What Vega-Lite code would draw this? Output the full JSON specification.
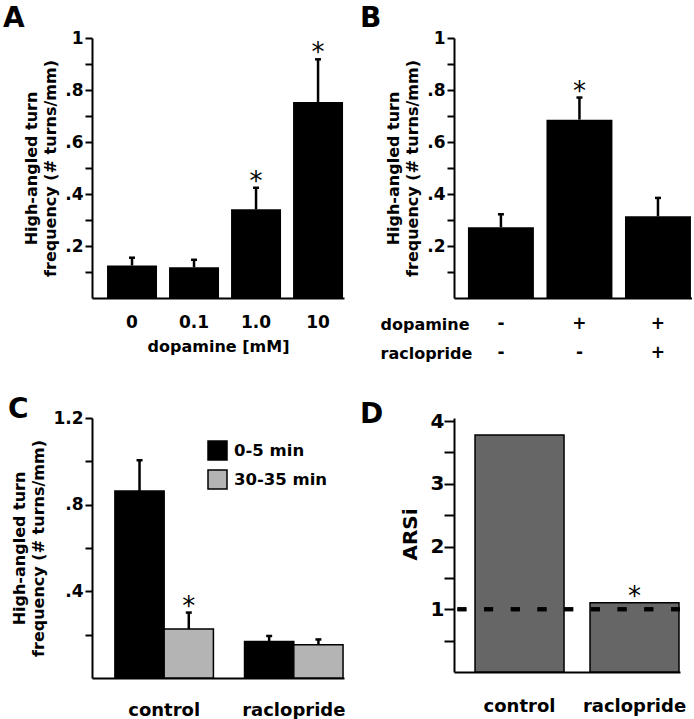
{
  "$schema": "https://vega.github.io/schema/vega-lite/v6.json",
  "padding": {"left": 3, "top": 5, "right": 0, "bottom": 0},
  "background": "white",
  "bounds": "flush",
  "align": "all",
  "columns": 2,
  "spacing": {"row": 120, "column": 110},
  "datasets": {
    "A": [
      {"dose": "0", "mean": 0.125, "upper": 0.155, "sig": ""},
      {"dose": "0.1", "mean": 0.118, "upper": 0.147, "sig": ""},
      {"dose": "1.0", "mean": 0.341, "upper": 0.424, "sig": "*"},
      {"dose": "10", "mean": 0.754, "upper": 0.918, "sig": "*"}
    ],
    "B": [
      {"cond": "- -", "dopamine": "-", "raclopride": "-", "mean": 0.272, "upper": 0.322, "sig": ""},
      {"cond": "+ -", "dopamine": "+", "raclopride": "-", "mean": 0.686, "upper": 0.771, "sig": "*"},
      {"cond": "+ +", "dopamine": "+", "raclopride": "+", "mean": 0.314, "upper": 0.385, "sig": ""}
    ],
    "C": [
      {"treatment": "control", "period": "0-5 min", "mean": 0.863, "upper": 1.005, "sig": ""},
      {"treatment": "control", "period": "30-35 min", "mean": 0.226, "upper": 0.302, "sig": "*"},
      {"treatment": "raclopride", "period": "0-5 min", "mean": 0.169, "upper": 0.194, "sig": ""},
      {"treatment": "raclopride", "period": "30-35 min", "mean": 0.154, "upper": 0.178, "sig": ""}
    ],
    "D": [
      {"treatment": "control", "arsi": 3.78, "sig": ""},
      {"treatment": "raclopride", "arsi": 1.105, "sig": "*"}
    ]
  },
  "concat": [
    {
      "width": 252,
      "height": 260,
      "title": {"text": "A", "dx": -89, "offset": -4},
      "data": {"name": "A"},
      "encoding": {
        "x": {
          "field": "dose", "type": "nominal", "sort": null,
          "scale": {"paddingInner": 0.194, "paddingOuter": 0.129, "align": 0.94},
          "axis": {"title": "dopamine [mM]", "labelPadding": 16, "titlePadding": 8, "labelBaseline": "top"}
        }
      },
      "layer": [
        {
          "mark": {"type": "bar", "color": "black"},
          "encoding": {
            "y": {
              "field": "mean", "type": "quantitative",
              "scale": {"domain": [0, 1], "nice": false},
              "axis": {
                "title": ["High-angled turn", "frequency (# turns/mm)"],
                "titleLineHeight": 19,
                "titlePadding": 6,
                "labelPadding": 2,
                "values": [0.1, 0.2, 0.3, 0.4, 0.5, 0.6, 0.7, 0.8, 0.9, 1],
                "labelExpr": "datum.value >= 1 ? '1' : (round(datum.value*10) % 2 == 0 ? replace(format(datum.value, '.1f'), '0.', '.') : '')"
              }
            }
          }
        },
        {
          "mark": {"type": "rule", "color": "black", "strokeWidth": 2.5},
          "encoding": {
            "y": {"field": "mean", "type": "quantitative", "axis": {"title": ["High-angled turn", "frequency (# turns/mm)"], "values": [0.1, 0.2, 0.3, 0.4, 0.5, 0.6, 0.7, 0.8, 0.9, 1]}},
            "y2": {"field": "upper"}
          }
        },
        {
          "mark": {"type": "tick", "color": "black", "size": 6, "thickness": 2.5, "opacity": 1},
          "encoding": {"y": {"field": "upper", "type": "quantitative", "axis": {"title": ["High-angled turn", "frequency (# turns/mm)"], "values": [0.1, 0.2, 0.3, 0.4, 0.5, 0.6, 0.7, 0.8, 0.9, 1]}}}
        },
        {
          "mark": {"type": "text", "fontSize": 26, "font": "DejaVu Sans", "baseline": "alphabetic", "dy": 2, "color": "black"},
          "encoding": {
            "y": {"field": "upper", "type": "quantitative", "axis": {"title": ["High-angled turn", "frequency (# turns/mm)"], "values": [0.1, 0.2, 0.3, 0.4, 0.5, 0.6, 0.7, 0.8, 0.9, 1]}},
            "text": {"field": "sig"}
          }
        }
      ]
    },
    {
      "width": 238,
      "height": 260,
      "title": {"text": "B", "dx": -94, "offset": -4},
      "data": {"name": "B"},
      "encoding": {
        "x": {
          "field": "cond", "type": "nominal", "sort": null,
          "scale": {"paddingInner": 0.16, "paddingOuter": 0.0955, "align": 0.93},
          "axis": {
            "title": ["dopamine", "raclopride"],
            "titleX": -74, "titleY": 31,
            "titleAlign": "left", "titleBaseline": "alphabetic", "titleAngle": 0,
            "titleLineHeight": 29,
            "labelExpr": "split(datum.value, ' ')",
            "labelLineHeight": 29,
            "labelBaseline": "top",
            "labelPadding": 17
          }
        }
      },
      "layer": [
        {
          "mark": {"type": "bar", "color": "black"},
          "encoding": {
            "y": {
              "field": "mean", "type": "quantitative",
              "scale": {"domain": [0, 1], "nice": false},
              "axis": {
                "title": ["High-angled turn", "frequency (# turns/mm)"],
                "titleLineHeight": 19,
                "titlePadding": 6,
                "labelPadding": 2,
                "values": [0.1, 0.2, 0.3, 0.4, 0.5, 0.6, 0.7, 0.8, 0.9, 1],
                "labelExpr": "datum.value >= 1 ? '1' : (round(datum.value*10) % 2 == 0 ? replace(format(datum.value, '.1f'), '0.', '.') : '')"
              }
            }
          }
        },
        {
          "mark": {"type": "rule", "color": "black", "strokeWidth": 2.5},
          "encoding": {
            "y": {"field": "mean", "type": "quantitative", "axis": {"title": ["High-angled turn", "frequency (# turns/mm)"], "values": [0.1, 0.2, 0.3, 0.4, 0.5, 0.6, 0.7, 0.8, 0.9, 1]}},
            "y2": {"field": "upper"}
          }
        },
        {
          "mark": {"type": "tick", "color": "black", "size": 6, "thickness": 2.5, "opacity": 1},
          "encoding": {"y": {"field": "upper", "type": "quantitative", "axis": {"title": ["High-angled turn", "frequency (# turns/mm)"], "values": [0.1, 0.2, 0.3, 0.4, 0.5, 0.6, 0.7, 0.8, 0.9, 1]}}}
        },
        {
          "mark": {"type": "text", "fontSize": 26, "font": "DejaVu Sans", "baseline": "alphabetic", "dy": 2, "color": "black"},
          "encoding": {
            "y": {"field": "upper", "type": "quantitative", "axis": {"title": ["High-angled turn", "frequency (# turns/mm)"], "values": [0.1, 0.2, 0.3, 0.4, 0.5, 0.6, 0.7, 0.8, 0.9, 1]}},
            "text": {"field": "sig"}
          }
        }
      ]
    },
    {
      "width": 252,
      "height": 260,
      "title": {"text": "C", "dx": -84, "offset": -14.5},
      "data": {"name": "C"},
      "encoding": {
        "x": {
          "field": "treatment", "type": "nominal", "sort": null,
          "scale": {"paddingInner": 0.24, "paddingOuter": 0.092, "align": 0.96},
          "axis": {"title": null, "labelPadding": 23, "labelFontSize": 18, "labelBaseline": "top"}
        },
        "xOffset": {"field": "period", "type": "nominal", "sort": null, "scale": {"paddingInner": 0, "paddingOuter": 0}}
      },
      "layer": [
        {
          "mark": {"type": "bar", "stroke": "black", "strokeWidth": 1.5},
          "encoding": {
            "y": {
              "field": "mean", "type": "quantitative",
              "scale": {"domain": [0, 1.2], "nice": false},
              "axis": {
                "title": ["High-angled turn", "frequency (# turns/mm)"],
                "titleLineHeight": 19,
                "titlePadding": 6,
                "labelPadding": 2,
                "values": [0.2, 0.4, 0.6, 0.8, 1.0, 1.2],
                "labelExpr": "round(datum.value*10) % 4 == 0 ? (datum.value >= 1 ? format(datum.value, '.1f') : replace(format(datum.value, '.1f'), '0.', '.')) : ''"
              }
            },
            "color": {
              "field": "period", "type": "nominal",
              "scale": {"domain": ["0-5 min", "30-35 min"], "range": ["#000000", "#b4b4b4"]},
              "legend": {
                "orient": "none", "legendX": 115, "legendY": 402,
                "title": null, "symbolType": "square", "symbolSize": 361,
                "symbolStrokeColor": "black", "symbolStrokeWidth": 1.5, "symbolOpacity": 1,
                "labelFont": "DejaVu Sans", "labelFontSize": 16.5, "labelFontWeight": "bold", "labelColor": "black",
                "labelOffset": 6, "rowPadding": 4, "padding": 0
              }
            }
          }
        },
        {
          "mark": {"type": "rule", "color": "black", "strokeWidth": 2.5},
          "encoding": {
            "y": {"field": "mean", "type": "quantitative", "axis": {"title": ["High-angled turn", "frequency (# turns/mm)"], "values": [0.2, 0.4, 0.6, 0.8, 1.0, 1.2]}},
            "y2": {"field": "upper"}
          }
        },
        {
          "mark": {"type": "tick", "color": "black", "size": 6, "thickness": 2.5, "opacity": 1},
          "encoding": {"y": {"field": "upper", "type": "quantitative", "axis": {"title": ["High-angled turn", "frequency (# turns/mm)"], "values": [0.2, 0.4, 0.6, 0.8, 1.0, 1.2]}}}
        },
        {
          "mark": {"type": "text", "fontSize": 26, "font": "DejaVu Sans", "baseline": "alphabetic", "dy": 2, "color": "black"},
          "encoding": {
            "y": {"field": "upper", "type": "quantitative", "axis": {"title": ["High-angled turn", "frequency (# turns/mm)"], "values": [0.2, 0.4, 0.6, 0.8, 1.0, 1.2]}},
            "text": {"field": "sig"}
          }
        }
      ]
    },
    {
      "width": 226,
      "height": 254,
      "title": {"text": "D", "dx": -94, "offset": -18},
      "data": {"name": "D"},
      "layer": [
        {
          "mark": {"type": "bar", "color": "#666666", "stroke": "black", "strokeWidth": 1.5},
          "encoding": {
            "x": {
              "field": "treatment", "type": "nominal", "sort": null,
              "scale": {"paddingInner": 0.226, "paddingOuter": 0.0957, "align": 0.955},
              "axis": {"title": null, "labelPadding": 25, "labelFontSize": 18, "labelBaseline": "top"}
            },
            "y": {
              "field": "arsi", "type": "quantitative",
              "scale": {"domain": [0, 4.05], "nice": false},
              "axis": {
                "title": "ARSi",
                "titleFontSize": 20,
                "titlePadding": 10,
                "titleY": 116,
                "labelPadding": 0,
                "labelFontSize": 20,
                "tickSize": 10,
                "values": [0.5, 1, 1.5, 2, 2.5, 3, 3.5, 4],
                "labelExpr": "datum.value % 1 == 0 ? format(datum.value, 'd') : ''"
              }
            }
          }
        },
        {
          "mark": {"type": "rule", "color": "black", "strokeWidth": 4, "strokeDash": [9, 17.7]},
          "encoding": {"y": {"datum": 1, "type": "quantitative", "axis": {"title": "ARSi", "values": [0.5, 1, 1.5, 2, 2.5, 3, 3.5, 4]}}}
        },
        {
          "mark": {"type": "text", "fontSize": 26, "font": "DejaVu Sans", "baseline": "alphabetic", "dy": 2, "color": "black"},
          "encoding": {
            "x": {"field": "treatment", "type": "nominal", "sort": null},
            "y": {"field": "arsi", "type": "quantitative", "axis": {"title": "ARSi", "values": [0.5, 1, 1.5, 2, 2.5, 3, 3.5, 4]}},
            "text": {"field": "sig"}
          }
        }
      ]
    }
  ],
  "config": {
    "view": {"stroke": null},
    "font": "DejaVu Sans",
    "title": {"font": "DejaVu Sans", "fontSize": 28, "fontWeight": "bold", "anchor": "start", "frame": "group", "baseline": "alphabetic", "color": "black"},
    "axis": {
      "labelFont": "DejaVu Sans", "titleFont": "DejaVu Sans",
      "labelFontWeight": "bold", "titleFontWeight": "bold",
      "labelColor": "black", "titleColor": "black",
      "labelFontSize": 17, "titleFontSize": 16,
      "domainColor": "black", "domainWidth": 2,
      "tickColor": "black", "tickWidth": 2,
      "grid": false
    },
    "axisX": {"ticks": false, "tickSize": 0, "labelAngle": 0},
    "axisY": {"tickSize": 7}
  }
}
